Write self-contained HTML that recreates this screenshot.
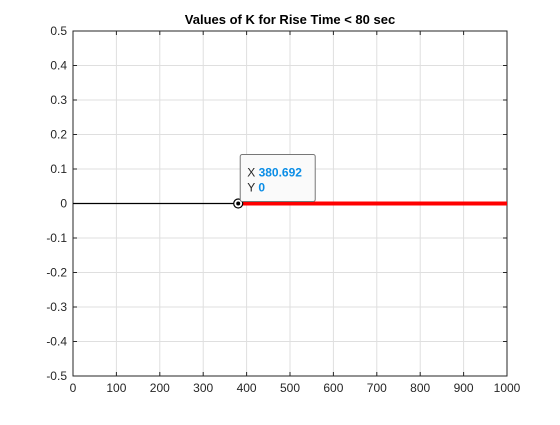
<!DOCTYPE html>
<html><head><meta charset="utf-8"><style>
body{margin:0;background:#fff;width:560px;height:420px;overflow:hidden}
svg{font-family:"Liberation Sans",Arial,sans-serif}
</style></head><body>
<svg id="c" width="560" height="420"></svg>
<script>
const xTicks=[0,100,200,300,400,500,600,700,800,900,1000];
const yTicks=[-0.5,-0.4,-0.3,-0.2,-0.1,0,0.1,0.2,0.3,0.4,0.5];
const blackX=[0,380.692];
const blackY=[0,0];
const redX=[380.692,1000];
const redY=[0,0];
const tipX=[380.692];
const tipY=[0];
const L=73,R=507,T=31,B=376;
const sx=v=>L+(v-0)/(1000-0)*(R-L);
const sy=v=>B-(v+0.5)/1*(B-T);
const s=document.getElementById('c');
const NS='http://www.w3.org/2000/svg';
function el(t,a,p){const e=document.createElementNS(NS,t);for(const k in a)e.setAttribute(k,a[k]);(p||s).appendChild(e);return e;}
el('rect',{x:L,y:T,width:R-L,height:B-T,fill:'#fff'});
xTicks.forEach(v=>{
 const g=el('line',{x1:sx(v),x2:sx(v),y1:T,y2:B,stroke:'#dfdfdf','stroke-width':1});
 
 
 el('line',{x1:sx(v),x2:sx(v),y1:B,y2:B-4,stroke:'#262626'});
 el('line',{x1:sx(v),x2:sx(v),y1:T,y2:T+4,stroke:'#262626'});
 const t=el('text',{x:sx(v),y:B+16,'text-anchor':'middle','font-size':12,fill:'#262626'});
 t.textContent=v;
 
 
});
yTicks.forEach(v=>{
 const g=el('line',{x1:L,x2:R,y1:sy(v),y2:sy(v),stroke:'#dfdfdf','stroke-width':1});
 
 
 el('line',{x1:L,x2:L+4,y1:sy(v),y2:sy(v),stroke:'#262626'});
 el('line',{x1:R,x2:R-4,y1:sy(v),y2:sy(v),stroke:'#262626'});
 const t=el('text',{x:L-6,y:sy(v)+4,'text-anchor':'end','font-size':12,fill:'#262626'});
 t.textContent=Math.abs(v)<1e-9?'0':String(Math.round(v*10)/10);
 
 
});
const ax=el('rect',{x:L,y:T,width:R-L,height:B-T,fill:'none',stroke:'#262626','stroke-width':1});


const bl=el('polyline',{points:blackX.map((x,i)=>sx(x)+','+sy(blackY[i])).join(' '),fill:'none',stroke:'#000','stroke-width':1.2});


const rl=el('polyline',{points:redX.map((x,i)=>sx(x)+','+sy(redY[i])).join(' '),fill:'none',stroke:'#ff0000','stroke-width':4});


const px=sx(tipX[0]),py=sy(tipY[0]);
const m=el('circle',{cx:px,cy:py,r:4.5,fill:'#fff',stroke:'#000','stroke-width':1.2});


el('circle',{cx:px,cy:py,r:2,fill:'#000'});
const box=el('rect',{x:px+2,y:py-49,width:75,height:47,rx:2,fill:'#fafafa',stroke:'#777','stroke-width':1});


const t1=el('text',{x:px+9,y:py-27,'font-size':12,fill:'#262626'});
t1.innerHTML='X <tspan fill="#0a8de6" font-weight="bold">'+tipX[0]+'</tspan>';


const t2=el('text',{x:px+9,y:py-12,'font-size':12,fill:'#262626'});
t2.innerHTML='Y <tspan fill="#0a8de6" font-weight="bold">'+tipY[0]+'</tspan>';


const ti=el('text',{x:(L+R)/2,y:24,'text-anchor':'middle','font-size':13,'font-weight':'bold',fill:'#000'});
ti.textContent='Values of K for Rise Time < 80 sec';


</script>
</body></html>
